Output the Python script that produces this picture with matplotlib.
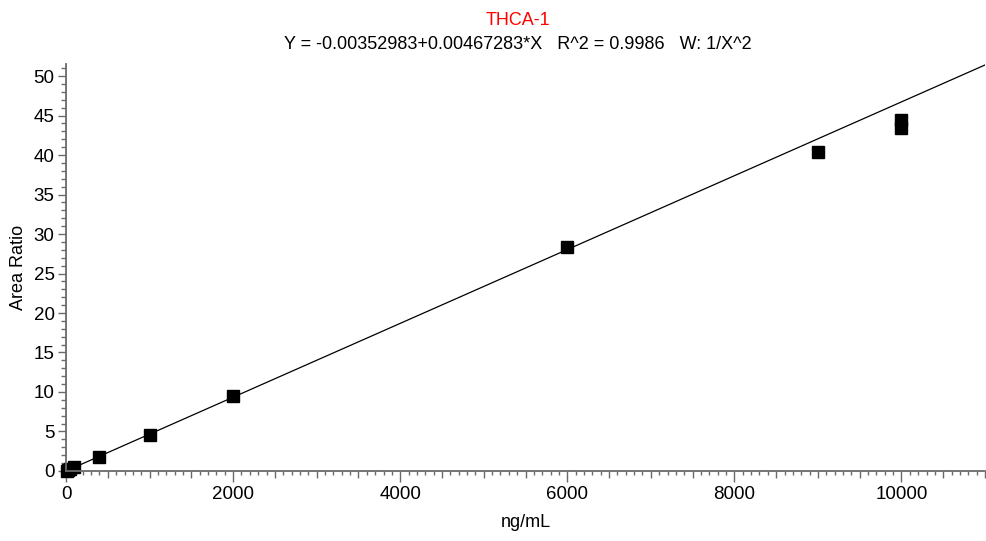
import numpy as np
import matplotlib.pyplot as plt
from matplotlib.ticker import MultipleLocator, FuncFormatter

plt.rcParams['font.family'] = ['Liberation Sans', 'DejaVu Sans']

# calibration standards (ng/mL) and measured area ratios
conc = [10, 25, 50, 100, 400, 1000, 2000, 6000, 9000, 10000, 10000]
area_ratio = [0.05, 0.1, 0.25, 0.45, 1.75, 4.5, 9.5, 28.3, 40.4, 44.4, 43.4]

# weighted linear fit
intercept = -0.00352983
slope = 0.00467283
r2 = 0.9986
compound = 'THCA-1'

x_max = 11000
y_max = 51.5

fig = plt.figure(figsize=(9.86, 5.41), dpi=100)
ax = fig.add_axes([0.067, 0.1294, 0.932, 0.752])

xf = np.linspace(0, x_max, 200)
ax.plot(xf, intercept + slope * xf, color='black', lw=0.9)
ax.plot(conc, area_ratio, 's', color='black', ms=8, clip_on=False)

ax.set_xlim(0, x_max)
ax.set_ylim(0, y_max)

for s in ['top', 'right']:
    ax.spines[s].set_visible(False)
for s in ['left', 'bottom']:
    ax.spines[s].set_color('#6a6a6a')
    ax.spines[s].set_linewidth(1.3)

ax.xaxis.set_major_locator(MultipleLocator(500))
ax.xaxis.set_minor_locator(MultipleLocator(100))
ax.xaxis.set_major_formatter(FuncFormatter(
    lambda v, p: '%d' % v if abs(v % 2000) < 1e-6 else ''))
ax.yaxis.set_major_locator(MultipleLocator(5))
ax.yaxis.set_minor_locator(MultipleLocator(1))

ax.tick_params(axis='both', which='both', direction='out', color='#6a6a6a',
               width=1.0, labelsize=13.5, labelcolor='black')
ax.tick_params(axis='x', which='major', length=5, pad=6)
ax.tick_params(axis='x', which='minor', length=2.8)
ax.tick_params(axis='y', which='major', length=5.8, pad=2.5)
ax.tick_params(axis='y', which='minor', length=3.6)

# longer ticks at the labelled positions
for t, v in zip(ax.xaxis.get_major_ticks(), ax.get_xticks()):
    if abs(v % 2000) < 1e-6:
        t.tick1line.set_markersize(8)

ax.set_xlabel('ng/mL', fontsize=13, labelpad=8)
ax.set_ylabel('Area Ratio', fontsize=13, labelpad=5)

fig.text(0.525, 0.963, compound, color='red', ha='center', va='center', fontsize=13)
fig.text(0.525, 0.918,
         'Y = %.8f+%.8f*X   R^2 = %.4f   W: 1/X^2' % (intercept, slope, r2),
         ha='center', va='center', fontsize=13)

fig.savefig('out.png', dpi=100)
